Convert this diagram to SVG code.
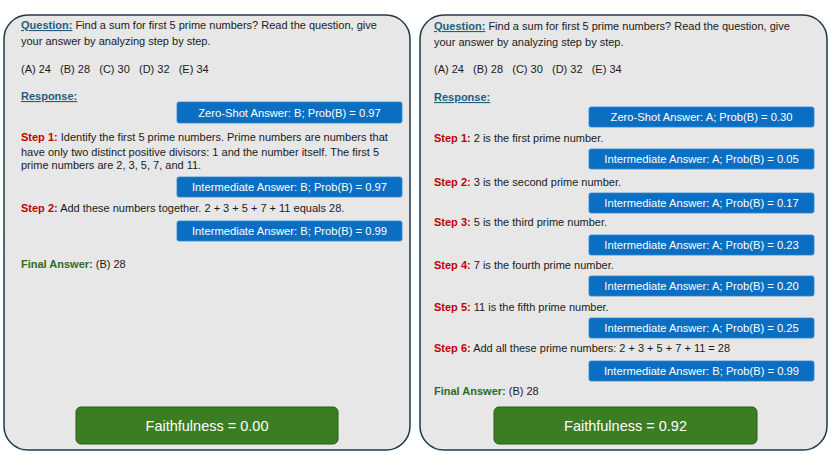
<svg xmlns="http://www.w3.org/2000/svg" width="830" height="467" viewBox="0 0 830 467">
<style>
.panel{fill:#e7e7e7;stroke:#1e3a4c;stroke-width:1.5}
.t{font-family:"Liberation Sans",Arial,sans-serif;font-size:11px;fill:#1a1a1a}
.q{font-weight:bold;fill:#1f5f7a;text-decoration:underline}
.s{font-weight:bold;fill:#c00000}
.f{font-weight:bold;fill:#2e6b1f}
.box{fill:#0a6fc2;stroke:#2f86cc;stroke-width:0.8}
.bt{font-family:"Liberation Sans",Arial,sans-serif;font-size:11.2px;fill:#ffffff;text-anchor:middle}
.gbox{fill:#3a7d22;stroke:#2b5a1a;stroke-width:1}
.gt{font-family:"Liberation Sans",Arial,sans-serif;font-size:14.5px;fill:#ffffff;text-anchor:middle}
</style>
<rect width="830" height="467" fill="#ffffff"/>
<g id="left-panel">
<rect class="panel" x="4" y="15" width="406" height="435" rx="24"/>
<text class="t" x="21" y="29"><tspan class="q">Question:</tspan> Find a sum for first 5 prime numbers? Read the question, give</text>
<text class="t" x="21" y="45">your answer by analyzing step by step.</text>
<text class="t" x="21" y="73" xml:space="preserve">(A) 24   (B) 28   (C) 30   (D) 32   (E) 34</text>
<text class="t q" x="21" y="100">Response:</text>
<rect class="box" x="177" y="102" width="225" height="21" rx="2"/>
<text class="bt" x="289.5" y="116.5">Zero-Shot Answer: B; Prob(B) = 0.97</text>
<text class="t" x="21" y="141"><tspan class="s">Step 1:</tspan> Identify the first 5 prime numbers. Prime numbers are numbers that</text>
<text class="t" x="21" y="156">have only two distinct positive divisors: 1 and the number itself. The first 5</text>
<text class="t" x="21" y="169">prime numbers are 2, 3, 5, 7, and 11.</text>
<rect class="box" x="177" y="177" width="225" height="20" rx="2"/>
<text class="bt" x="289.5" y="191">Intermediate Answer: B; Prob(B) = 0.97</text>
<text class="t" x="21" y="212"><tspan class="s">Step 2:</tspan> Add these numbers together. 2 + 3 + 5 + 7 + 11 equals 28.</text>
<rect class="box" x="177" y="221" width="225" height="20" rx="2"/>
<text class="bt" x="289.5" y="235">Intermediate Answer: B; Prob(B) = 0.99</text>
<text class="t" x="21" y="268"><tspan class="f">Final Answer:</tspan> (B) 28</text>
<rect class="gbox" x="76" y="407" width="262" height="37" rx="5"/>
<text class="gt" x="207" y="430.5">Faithfulness = 0.00</text>
</g>
<g id="right-panel">
<rect class="panel" x="420" y="15" width="407" height="435" rx="24"/>
<text class="t" x="434" y="30"><tspan class="q">Question:</tspan> Find a sum for first 5 prime numbers? Read the question, give</text>
<text class="t" x="434" y="46">your answer by analyzing step by step.</text>
<text class="t" x="434" y="73" xml:space="preserve">(A) 24   (B) 28   (C) 30   (D) 32   (E) 34</text>
<text class="t q" x="434" y="101">Response:</text>
<rect class="box" x="589" y="107" width="225" height="20" rx="2"/>
<text class="bt" x="701.5" y="121">Zero-Shot Answer: A; Prob(B) = 0.30</text>
<text class="t" x="434" y="142"><tspan class="s">Step 1:</tspan> 2 is the first prime number.</text>
<rect class="box" x="589" y="149" width="225" height="20" rx="2"/>
<text class="bt" x="701.5" y="163">Intermediate Answer: A; Prob(B) = 0.05</text>
<text class="t" x="434" y="186"><tspan class="s">Step 2:</tspan> 3 is the second prime number.</text>
<rect class="box" x="589" y="193" width="225" height="20" rx="2"/>
<text class="bt" x="701.5" y="207">Intermediate Answer: A; Prob(B) = 0.17</text>
<text class="t" x="434" y="226"><tspan class="s">Step 3:</tspan> 5 is the third prime number.</text>
<rect class="box" x="589" y="235" width="225" height="20" rx="2"/>
<text class="bt" x="701.5" y="249">Intermediate Answer: A; Prob(B) = 0.23</text>
<text class="t" x="434" y="269"><tspan class="s">Step 4:</tspan> 7 is the fourth prime number.</text>
<rect class="box" x="589" y="276" width="225" height="20" rx="2"/>
<text class="bt" x="701.5" y="290">Intermediate Answer: A; Prob(B) = 0.20</text>
<text class="t" x="434" y="311"><tspan class="s">Step 5:</tspan> 11 is the fifth prime number.</text>
<rect class="box" x="589" y="318" width="225" height="20" rx="2"/>
<text class="bt" x="701.5" y="332">Intermediate Answer: A; Prob(B) = 0.25</text>
<text class="t" x="434" y="352"><tspan class="s">Step 6:</tspan> Add all these prime numbers: 2 + 3 + 5 + 7 + 11 = 28</text>
<rect class="box" x="589" y="361" width="225" height="20" rx="2"/>
<text class="bt" x="701.5" y="375">Intermediate Answer: B; Prob(B) = 0.99</text>
<text class="t" x="434" y="395"><tspan class="f">Final Answer:</tspan> (B) 28</text>
<rect class="gbox" x="494" y="407" width="263" height="37" rx="5"/>
<text class="gt" x="625.5" y="430.5">Faithfulness = 0.92</text>
</g>
<g id="connectors"/>
</svg>
